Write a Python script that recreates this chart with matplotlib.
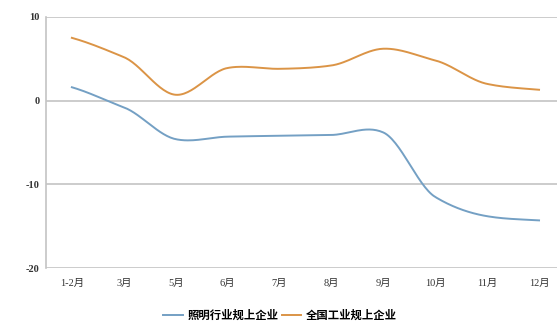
import numpy as np
import matplotlib
matplotlib.use('Agg')
import matplotlib.pyplot as plt

months = ['1-2月', '3月', '5月', '6月', '7月', '8月', '9月', '10月', '11月', '12月']
lighting = [1.6, -0.8, -4.6, -4.3, -4.2, -4.1, -3.8, -11.5, -13.8, -14.3]
national = [7.5, 5.2, 0.7, 3.9, 3.8, 4.2, 6.2, 4.8, 2.0, 1.3]
yticks = [10, 0, -10, -20]

BLUE = '#74a0c4'
ORANGE = '#db9446'
GRID = '#c4c4c4'


def smoothCurve(y, n=30, tension=0.75):
    # cubic hermite with scaled catmull-rom tangents (office style smoothing)
    y = np.asarray(y, dtype=float)
    x = np.arange(len(y), dtype=float)
    m = np.zeros_like(y)
    m[1:-1] = tension * (y[2:] - y[:-2]) / 2.0
    m[0] = tension * (y[1] - y[0])
    m[-1] = tension * (y[-1] - y[-2])
    xs, ys = [], []
    for i in range(len(y) - 1):
        t = np.linspace(0, 1, n, endpoint=False)
        h00 = 2 * t**3 - 3 * t**2 + 1
        h10 = t**3 - 2 * t**2 + t
        h01 = -2 * t**3 + 3 * t**2
        h11 = t**3 - t**2
        xs.append(x[i] + t)
        ys.append(h00 * y[i] + h10 * m[i] + h01 * y[i + 1] + h11 * m[i + 1])
    xs.append([x[-1]])
    ys.append([y[-1]])
    return np.concatenate(xs), np.concatenate(ys)


fam = ['Liberation Serif', 'Noto Sans CJK SC']

fig = plt.figure(figsize=(5.6, 3.25), dpi=100)
ax = fig.add_axes([0.082, 0.175, 0.913, 0.773])

for yt in yticks:
    ax.axhline(yt, color=GRID, lw=1.2, zorder=1)

xb, yb = smoothCurve(lighting)
xo, yo = smoothCurve(national)
l1, = ax.plot(xb, yb, color=BLUE, lw=1.4, zorder=3, label='照明行业规上企业')
l2, = ax.plot(xo, yo, color=ORANGE, lw=1.4, zorder=3, label='全国工业规上企业')

ax.set_xlim(-0.5, 9.35)
ax.set_ylim(-20, 10)
ax.set_xticks(range(len(months)))
ax.set_xticklabels(months, family=fam, fontsize=7.5, color='#333333')
ax.set_yticks(yticks)
ax.set_yticklabels([str(v) for v in yticks], family=fam, fontsize=7.5,
                   color='#333333', fontweight='bold')
ax.tick_params(length=0)
ax.tick_params(axis='x', pad=8)
ax.tick_params(axis='y', pad=4.5)

for s in ['top', 'right', 'bottom']:
    ax.spines[s].set_visible(False)
ax.spines['left'].set_color(GRID)
ax.spines['left'].set_linewidth(1.2)

fig.legend(handles=[l1, l2], loc='center', bbox_to_anchor=(0.5, 0.03),
           ncol=2, frameon=False, handlelength=1.7, handletextpad=0.4,
           columnspacing=0.3, prop={'family': 'Noto Sans CJK SC', 'size': 8.2,
                                    'weight': 'bold'})

fig.savefig('out.png', dpi=100)
